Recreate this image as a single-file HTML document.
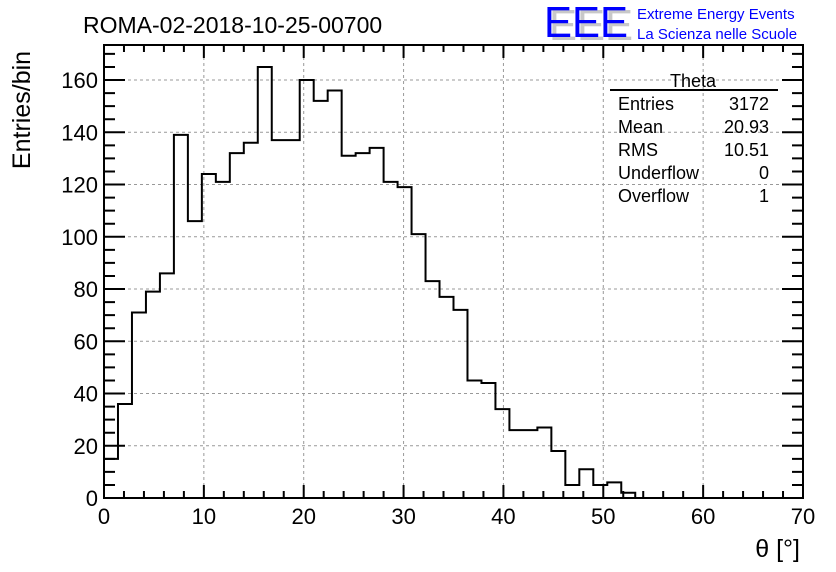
<!DOCTYPE html>
<html><head><meta charset="utf-8"><style>
body{margin:0;background:#fff}
svg{display:block;font-family:"Liberation Sans",sans-serif}
</style></head><body>
<svg id="c" width="836" height="572">
<text x="83" y="33" font-size="23">ROMA-02-2018-10-25-00700</text>
<g>
<text x="549" y="40" font-size="44" fill="#c8c8c8" textLength="84" lengthAdjust="spacingAndGlyphs">EEE</text>
<text x="544" y="37" font-size="44" fill="#0000ff" textLength="84" lengthAdjust="spacingAndGlyphs">EEE</text>
<text x="637" y="19" font-size="15" fill="#0000ff">Extreme Energy Events</text>
<text x="637" y="39" font-size="15" fill="#0000ff">La Scienza nelle Scuole</text>
</g>
<g id="grid"></g>
<path id="hist" fill="none" stroke="#000" stroke-width="2"/>
<rect x="104" y="45" width="699" height="453" fill="none" stroke="#000" stroke-width="2"/>
<g id="ticks"></g>
<text transform="translate(30,110) rotate(-90)" font-size="25" text-anchor="middle">Entries/bin</text>
<text x="800" y="557" font-size="25" text-anchor="end">θ [°]</text>
<g font-size="18">
<text x="693" y="87" text-anchor="middle">Theta</text>
<line x1="610" y1="90" x2="778" y2="90" stroke="#000" stroke-width="2"/>
<text x="618" y="110">Entries</text><text x="769" y="110" text-anchor="end">3172</text>
<text x="618" y="133">Mean</text><text x="769" y="133" text-anchor="end">20.93</text>
<text x="618" y="156">RMS</text><text x="769" y="156" text-anchor="end">10.51</text>
<text x="618" y="179">Underflow</text><text x="769" y="179" text-anchor="end">0</text>
<text x="618" y="202">Overflow</text><text x="769" y="202" text-anchor="end">1</text>
</g>
</svg>
<script>
const counts=[15,36,71,79,86,139,106,124,121,132,136,165,137,137,160,152,156,131,132,134,121,119,101,83,77,72,45,44,34,26,26,27,18,5,11,5,6,2,0,0,0,0,0,0,0,0,0,0,0,0];
const xTicks=[0,10,20,30,40,50,60,70];
const yTicks=[0,20,40,60,80,100,120,140,160];
const binWidth=1.4;
const X=v=>104+v*699/70, Y=v=>498-v*2.6125;
const ns="http://www.w3.org/2000/svg", svg=document.getElementById('c');
const grid=document.getElementById('grid'), tk=document.getElementById('ticks');
function mk(p,tag,a){const e=document.createElementNS(ns,tag);for(const k in a)e.setAttribute(k,a[k]);p.appendChild(e);return e;}
xTicks.forEach(v=>{
  if(v>0&&v<70){const g=mk(grid,'line',{x1:X(v),x2:X(v),y1:45,y2:498,stroke:'#999','stroke-dasharray':'3,3'});
  
  }
  const t=mk(tk,'text',{x:X(v),y:524,'font-size':22,'text-anchor':'middle'});t.textContent=v;
  
  
});
yTicks.forEach(v=>{
  if(v>0){const g=mk(grid,'line',{x1:104,x2:803,y1:Y(v),y2:Y(v),stroke:'#999','stroke-dasharray':'3,3'});
  
  }
  const t=mk(tk,'text',{x:98,y:Y(v)+8,'font-size':22,'text-anchor':'end'});t.textContent=v;
  
  
});
let d='';
for(let v=0;v<=70;v+=2){const L=v%10===0?13:7;d+=`M${X(v)} 498v${-L}M${X(v)} 45v${L}`;}
for(let v=0;v<=172;v+=5){if(Y(v)<46)break;const L=v%20===0?21:11;d+=`M104 ${Y(v)}h${L}M803 ${Y(v)}h${-L}`;}
const tp=mk(tk,'path',{d:d,stroke:'#000','stroke-width':2,fill:'none'});


let h=`M${X(0)} ${Y(0)}`;
counts.forEach((c,i)=>{h+=`L${X(i*binWidth)} ${Y(c)}L${X((i+1)*binWidth)} ${Y(c)}`;});
document.getElementById('hist').setAttribute('d',h);
</script>
</body></html>
